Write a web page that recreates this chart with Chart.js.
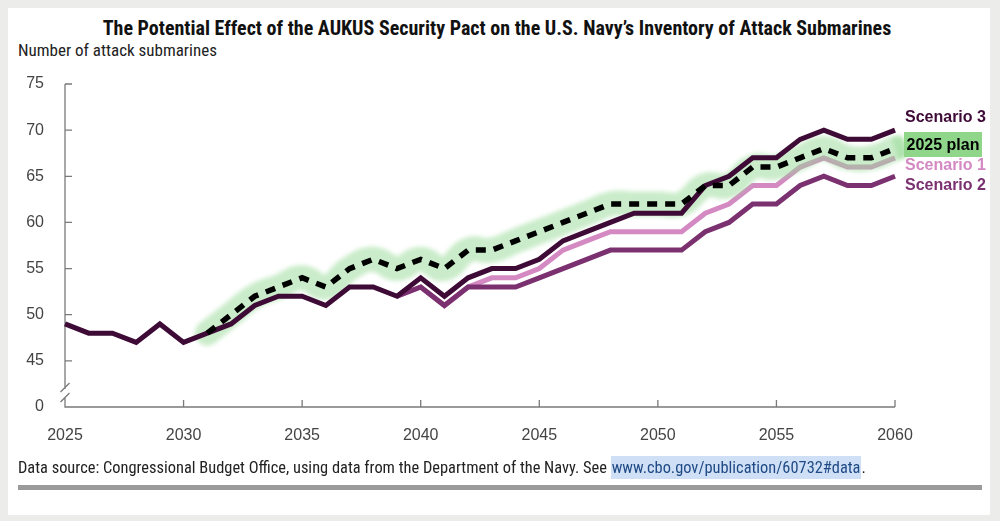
<!DOCTYPE html>
<html>
<head>
<meta charset="utf-8">
<script src="https://cdn.jsdelivr.net/npm/chart.js@4.4.1/dist/chart.umd.min.js"></script>
<style>
  html, body { margin: 0; padding: 0; }
  body { width: 1000px; height: 521px; background: #ececea; position: relative; overflow: hidden; font-family: "Liberation Sans", Arial, sans-serif; }
  .card { position: absolute; left: 8px; top: 8px; width: 982px; height: 507px; background: #fff; }
  .narrow { font-family: "Liberation Sans Narrow", "Roboto Condensed", "Liberation Sans", sans-serif; }
  #title { position: absolute; left: 0; width: 994px; top: 16px; text-align: center; font-weight: bold; font-size: 20px; line-height: 24px; color: #111; white-space: nowrap; }
  #ytitle { position: absolute; left: 18px; top: 39px; font-size: 17px; line-height: 22px; color: #222; white-space: nowrap; }
  #chartwrap { position: absolute; left: 0; top: 0; width: 1000px; height: 521px; }
  .lab { position: absolute; font-weight: bold; font-size: 16px; line-height: 20px; white-space: nowrap; }
  #l3 { left: 905px; top: 107px; color: #3e0a36; }
  #l1 { left: 905px; top: 155px; color: #d489c3; }
  #l2 { left: 905px; top: 175px; color: #7b3170; }
  #lp { left: 904px; top: 132px; width: 78px; height: 25px; background: #8fd68b; color: #000; line-height: 25px; text-align: center; }
  #footer { position: absolute; left: 18px; top: 457px; font-size: 16.4px; line-height: 21px; color: #222; white-space: nowrap; }
  #footer .link { background: #cfe0f6; color: #1f4a85; padding: 2px 1px; }
  #rule { position: absolute; left: 18px; top: 485px; width: 964px; height: 5px; background: #9b9b9b; }
</style>
</head>
<body>
<div class="card"></div>
<div id="title" class="narrow">The Potential Effect of the AUKUS Security Pact on the U.S. Navy’s Inventory of Attack Submarines</div>
<div id="ytitle" class="narrow">Number of attack submarines</div>
<div id="chartwrap"><canvas id="c" width="1000" height="521"></canvas></div>
<div class="lab" id="l3">Scenario 3</div>
<div class="lab" id="l1">Scenario 1</div>
<div class="lab" id="lp">2025 plan</div>
<div class="lab" id="l2">Scenario 2</div>
<div id="footer" class="narrow">Data source: Congressional Budget Office, using data from the Department of the Navy. See <span class="link">www.cbo.gov/publication/60732#data</span>.</div>
<div id="rule"></div>
<script>
// ---- Data ----
const years = [2025,2026,2027,2028,2029,2030,2031,2032,2033,2034,2035,2036,2037,2038,2039,2040,2041,2042,2043,2044,2045,2046,2047,2048,2049,2050,2051,2052,2053,2054,2055,2056,2057,2058,2059,2060];
const scenario3 = [49,48,48,47,49,47,48,49,51,52,52,51,53,53,52,54,52,54,55,55,56,58,59,60,61,61,61,64,65,67,67,69,70,69,69,70];
const plan2025 = [null,null,null,null,null,null,48,50,52,53,54,53,55,56,55,56,55,57,57,58,59,60,61,62,62,62,62,64,64,66,66,67,68,67,67,68];
const scenario1 = [null,null,null,null,null,null,null,null,null,null,null,null,null,null,52,53,51,53,54,54,55,57,58,59,59,59,59,61,62,64,64,66,67,66,66,67];
const scenario2 = [null,null,null,null,null,null,null,null,null,null,null,null,null,null,52,53,51,53,53,53,54,55,56,57,57,57,57,59,60,62,62,64,65,64,64,65];
const yTicks = [40,45,50,55,60,65,70,75];
const yTickLabels = ['0','45','50','55','60','65','70','75'];
const xTicks = [2025,2030,2035,2040,2045,2050,2055,2060];

const pts = arr => years.map((y,i) => ({x: y, y: arr[i]}));

const BAND = 2;
const BAND_COLOR = 'rgba(150,218,150,0.5)';

const axisPlugin = {
  id: 'axisPlugin',
  beforeDatasetDraw(chart, args) {
    if (args.index === BAND) { chart.ctx.save(); chart.ctx.filter = 'blur(2px)'; }
  },
  afterDatasetDraw(chart, args) {
    if (args.index === BAND) { chart.ctx.restore(); }
  },
  beforeDatasetsDraw(chart) {
    const ctx = chart.ctx;
    const xs = chart.scales.x, ys = chart.scales.y;
    const left = xs.getPixelForValue(2025), right = xs.getPixelForValue(2060);
    const bottom = ys.getPixelForValue(40), top = ys.getPixelForValue(75);
    ctx.save();
    ctx.strokeStyle = '#7a7a7a';
    ctx.lineWidth = 1.3;
    ctx.beginPath();
    ctx.moveTo(left, top); ctx.lineTo(left, bottom - 18);
    ctx.moveTo(left, bottom - 10); ctx.lineTo(left, bottom); ctx.lineTo(right, bottom);
    ctx.moveTo(left - 4.5, bottom - 15); ctx.lineTo(left + 4.5, bottom - 24);
    ctx.moveTo(left - 4.5, bottom - 5); ctx.lineTo(left + 4.5, bottom - 14);
    yTicks.forEach(v => { if (v > 40) { const p = ys.getPixelForValue(v); ctx.moveTo(left, p); ctx.lineTo(left + 7, p); } });
    xTicks.forEach(v => { if (v > 2025) { const p = xs.getPixelForValue(v); ctx.moveTo(p, bottom); ctx.lineTo(p, bottom - 7); } });
    ctx.stroke();
    const ly = ys.getPixelForValue(plan2025[plan2025.length - 1]);
    ctx.strokeStyle = BAND_COLOR;
    ctx.lineWidth = 22;
    ctx.filter = 'blur(2px)';
    ctx.beginPath();
    ctx.moveTo(right, ly);
    ctx.lineTo(right + 10, ly - 3);
    ctx.stroke();
    ctx.restore();
  }
};

new Chart(document.getElementById('c'), {
  type: 'line',
  data: {
    datasets: [
      { label: '2025 plan', data: pts(plan2025), borderColor: '#000', borderWidth: 5.5, borderDash: [10, 8], pointRadius: 0, order: 0, clip: false },
      { label: 'Scenario 3', data: pts(scenario3), borderColor: '#3e0a36', borderWidth: 5, pointRadius: 0, order: 1, clip: false },
      { label: 'band', data: pts(plan2025), borderColor: BAND_COLOR, borderWidth: 25, tension: 0.5, borderCapStyle: 'round', borderJoinStyle: 'round', pointRadius: 0, order: 2, clip: false },
      { label: 'Scenario 2', data: pts(scenario2), borderColor: '#7b3170', borderWidth: 5, pointRadius: 0, order: 3, clip: false },
      { label: 'Scenario 1', data: pts(scenario1), borderColor: '#d489c3', borderWidth: 5, pointRadius: 0, order: 4, clip: false }
    ]
  },
  options: {
    responsive: false,
    animation: false,
    events: [],
    layout: { padding: { left: 0, top: 84, right: 105, bottom: 0 } },
    plugins: { legend: { display: false }, tooltip: { enabled: false } },
    scales: {
      x: {
        type: 'linear', min: 2025, max: 2060,
        grid: { display: false, drawTicks: false },
        border: { display: false },
        afterBuildTicks: s => { s.ticks = xTicks.map(v => ({ value: v })); },
        afterFit: s => { s.height = 114; },
        ticks: { padding: 19, color: '#444', font: { family: 'Liberation Sans, Arial, sans-serif', size: 16 }, callback: v => String(v), maxRotation: 0, autoSkip: false }
      },
      y: {
        min: 40, max: 75,
        grid: { display: false, drawTicks: false },
        border: { display: false },
        afterBuildTicks: s => { s.ticks = yTicks.map(v => ({ value: v })); },
        afterFit: s => { s.width = 65; },
        ticks: { padding: 21, color: '#444', font: { family: 'Liberation Sans, Arial, sans-serif', size: 16 }, callback: v => yTickLabels[yTicks.indexOf(v)], autoSkip: false }
      }
    }
  },
  plugins: [axisPlugin]
});
</script>
</body>
</html>
